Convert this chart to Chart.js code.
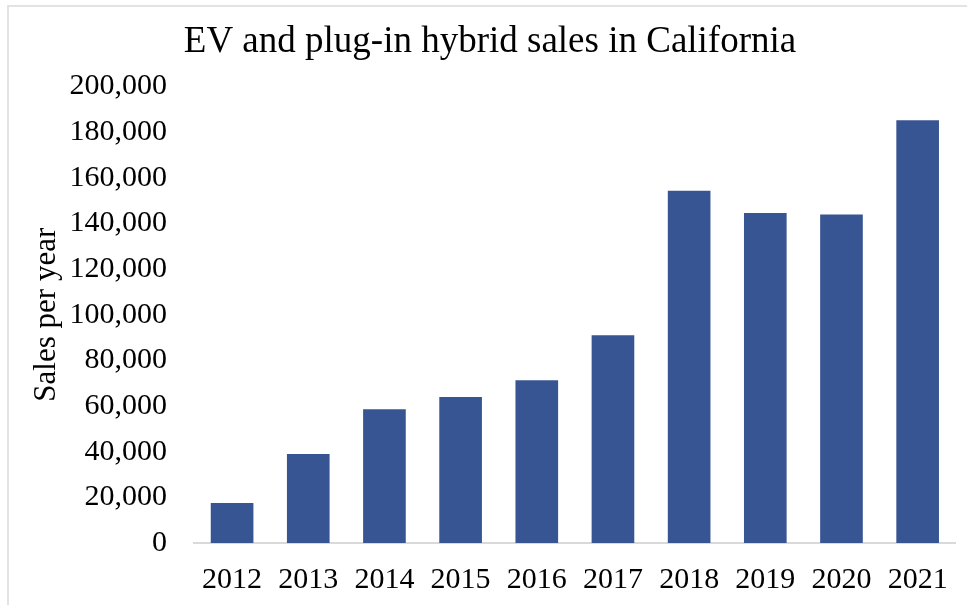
<!DOCTYPE html>
<html>
<head>
<meta charset="utf-8">
<script src="https://cdn.jsdelivr.net/npm/chart.js"></script>
<style>
  html, body { margin: 0; padding: 0; background: #fff; }
  #wrap { position: relative; width: 967px; height: 605px; }
  #frame { position: absolute; left: 7px; top: 5px; right: 0; bottom: 0;
           border-left: 2px solid #e3e3e3; border-top: 2px solid #e3e3e3; }
  canvas { position: absolute; left: 0; top: 0; }
</style>
</head>
<body>
<div id="wrap">
  <div id="frame"></div>
  <canvas id="chart" width="967" height="605"></canvas>
</div>
<script>
// values
const years = ['2012', '2013', '2014', '2015', '2016', '2017', '2018', '2019', '2020', '2021'];
const sales = [17500, 39000, 58600, 63900, 71300, 91000, 154300, 144500, 143900, 185200];
const yTicks = [0, 20000, 40000, 60000, 80000, 100000, 120000, 140000, 160000, 180000, 200000];

const serif = "'Liberation Serif', 'Times New Roman', serif";

const ctx = document.getElementById('chart').getContext('2d');
new Chart(ctx, {
    type: 'bar',
    data: {
        labels: years,
        datasets: [{
            label: 'Sales per year',
            data: sales,
            backgroundColor: '#385593',
            borderWidth: 0,
            barPercentage: 0.56,
            categoryPercentage: 1.0
        }]
    },
    options: {
        responsive: false,
        animation: false,
        layout: {
            padding: { left: 20, right: 7, top: 0, bottom: 0 }
        },
        plugins: {
            legend: { display: false },
            tooltip: { enabled: false },
            title: {
                display: true,
                text: 'EV and plug-in hybrid sales in California',
                color: '#000',
                font: { family: serif, size: 37, weight: 'normal' },
                padding: { top: 20, bottom: 22 }
            }
        },
        scales: {
            x: {
                afterFit: (scale) => {
                    scale.height = 62;
                },
                grid: { display: false, drawTicks: false },
                border: { display: true, color: '#d9d9d9', width: 2 },
                ticks: {
                    color: '#000',
                    font: { family: serif, size: 30 },
                    padding: 19,
                    maxRotation: 0
                }
            },
            y: {
                min: 0,
                max: 200000,
                afterBuildTicks: (scale) => {
                    scale.ticks = yTicks.map(v => ({ value: v }));
                },
                afterFit: (scale) => {
                    scale.width = 174;
                },
                grid: { display: false, drawTicks: false },
                border: { display: false },
                title: {
                    display: true,
                    text: 'Sales per year',
                    color: '#000',
                    font: { family: serif, size: 31 },
                    padding: { top: 8, bottom: 0 }
                },
                ticks: {
                    color: '#000',
                    font: { family: serif, size: 30 },
                    padding: 27,
                    callback: (v) => v.toLocaleString('en-US')
                }
            }
        }
    }
});
</script>
</body>
</html>
